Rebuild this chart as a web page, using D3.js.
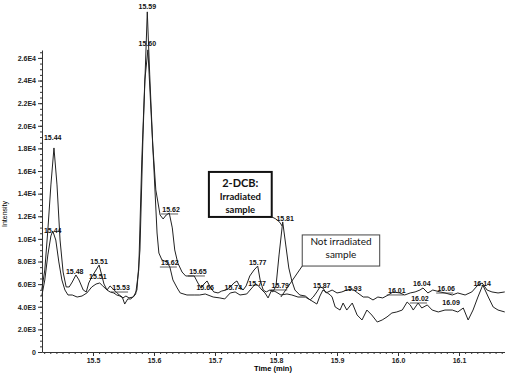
<!DOCTYPE html>
<html lang="en">
<head>
	<meta charset="utf-8">
	<title>2-DCB chromatogram</title>
	<script src='https://d3js.org/d3.v7.min.js'></script>
	<style>
		body { margin: 0; background: #fff; }
		.axis path, .axis line { stroke: #333; }
		.axis text { font-family: "Liberation Sans", Arial, sans-serif; font-size: 7px; font-weight: bold; fill: #222; }
		.peak { font-family: "Liberation Sans", Arial, sans-serif; font-size: 7px; font-weight: bold; fill: #111; text-anchor: middle; }
		.note { font-family: Lato, "Open Sans", sans-serif; fill: #111; text-anchor: middle; }
	</style>
</head>
<body>
	<div id="chart"></div>
	<script>
		// irradiated sample trace (time in min, intensity)
		var timeA = [15.416,15.421,15.426,15.431,15.436,15.441,15.446,15.451,15.456,15.461,15.466,15.472,15.477,15.484,15.489,15.493,15.498,15.503,15.510,15.513,
			15.518,15.523,15.528,15.533,15.538,15.543,15.548,15.552,15.557,15.562,15.567,15.572,15.577,15.582,15.589,15.593,15.598,15.603,15.610,15.615,
			15.620,15.625,15.630,15.634,15.639,15.646,15.652,15.659,15.666,15.672,15.677,15.682,15.687,15.692,15.698,15.705,15.711,15.718,15.725,15.731,
			15.736,15.741,15.746,15.751,15.757,15.764,15.770,15.774,15.779,15.784,15.790,15.795,15.800,15.805,15.811,15.816,15.821,15.826,15.831,15.839,
			15.848,15.856,15.861,15.867,15.872,15.877,15.882,15.892,15.900,15.908,15.916,15.925,15.934,15.943,15.951,15.959,15.967,15.975,15.984,15.992,
			16.003,16.011,16.020,16.028,16.036,16.041,16.049,16.057,16.069,16.077,16.089,16.098,16.110,16.121,16.131,16.138,16.146,16.154,16.164,16.175];
		var intensityA = [5500,7250,10790,14770,18040,14770,9900,7070,5750,5750,6190,6810,6370,5480,5310,6100,6630,7070,7690,7070,
			6010,5480,5840,5570,5310,5040,4860,4240,4690,4690,4950,5480,9020,19190,30070,24500,18300,14330,12110,11760,
			12110,12290,10970,9020,7870,7070,6720,6720,6720,6100,5660,6010,6280,5750,5310,5220,5390,5480,5750,6100,
			6280,5750,5480,5840,6720,7250,7600,6370,5480,5310,5480,5310,5840,8580,11500,9460,7430,6280,5480,5040,
			4950,4600,4860,5310,5750,5660,5220,5480,5220,5310,5480,5570,5220,4860,4860,4600,4860,4780,5040,5310,
			5220,5040,5220,5310,5480,5660,5220,5480,5310,5220,5040,5220,5040,5310,5920,6100,5480,5310,5220,5310];

		// not irradiated sample trace
		var timeB = [15.416,15.421,15.426,15.431,15.434,15.439,15.444,15.449,15.454,15.459,15.466,15.474,15.482,15.490,15.498,15.505,15.511,15.516,15.523,15.528,
			15.534,15.539,15.544,15.549,15.554,15.559,15.566,15.570,15.575,15.580,15.585,15.590,15.595,15.600,15.605,15.608,15.613,15.621,15.626,15.631,
			15.638,15.643,15.654,15.667,15.675,15.684,15.697,15.708,15.716,15.725,15.733,15.741,15.752,15.759,15.766,15.770,15.777,15.782,15.787,15.793,
			15.800,15.808,15.818,15.826,15.836,15.848,15.859,15.867,15.872,15.877,15.882,15.889,15.892,15.897,15.905,15.910,15.916,15.925,15.933,15.941,
			15.949,15.957,15.966,15.974,15.982,15.990,15.998,16.007,16.015,16.020,16.025,16.033,16.039,16.048,16.056,16.066,16.077,16.089,16.098,16.107,
			16.115,16.123,16.131,16.139,16.148,16.156,16.164,16.175];
		var intensityB = [4950,6370,8580,10260,10700,9900,7960,6370,5480,5040,5040,4860,4950,5220,5750,6010,6100,5840,5480,5310,
			5220,5040,4950,4780,4950,4780,4860,5130,7250,16980,24050,26710,21400,16090,10520,8750,8140,7960,7520,6370,
			5660,5220,5040,5040,5040,5130,4860,4780,4690,5220,5310,5040,5130,5570,6010,5920,5480,5220,4780,5480,
			5310,5040,5130,5040,4860,4860,4510,4240,4950,5480,5310,5040,4860,3980,3710,4330,3710,4330,3270,2830,
			3710,3270,2650,2830,3100,3450,3540,3710,4420,4160,3710,4330,3890,4160,3710,3540,3710,3710,3540,3890,
			2830,3710,4860,5920,4860,3980,3710,3540];

		// peak labels: text, time and intensity of the label anchor, 1 = label sits on a short leader
		var peakText = ["15.59","15.60","15.44","15.44","15.48","15.51","15.51","15.53","15.62","15.62","15.65","15.66","15.74",
			"15.77","15.77","15.79","15.81","15.87","15.93","16.01","16.04","16.02","16.06","16.09","16.14"];
		var peakTime = [15.589,15.589,15.434,15.434,15.470,15.510,15.508,15.546,15.628,15.626,15.672,15.684,15.730,
			15.770,15.769,15.807,15.815,15.875,15.926,15.998,16.039,16.036,16.079,16.087,16.138];
		var peakValue = [30330,27060,18750,10520,6900,7780,6460,5480,12380,7690,6900,5480,5480,
			7690,5840,5660,11580,5660,5390,5220,5840,4510,5390,4160,5840];
		var peakLeader = [0,0,0,0,0,0,0,1,1,1,1,0,0,0,0,1,0,0,0,1,0,1,1,0,0];

		var xTicks = [15.5,15.6,15.7,15.8,15.9,16.0,16.1];
		var xTickLabels = ["15.5","15.6","15.7","15.8","15.9","16.0","16.1"];
		var yTicks = [0,2000,4000,6000,8000,10000,12000,14000,16000,18000,20000,22000,24000,26000];
		var yTickLabels = ["0","2.0E3","4.0E3","6.0E3","8.0E3","1.0E4","1.2E4","1.4E4","1.6E4","1.8E4","2.0E4","2.2E4","2.4E4","2.6E4"];

		const width = 505;
		const height = 373;
		var svg = d3.select("#chart")
					.append("svg")
					.attr("width", width)
					.attr("height", height);

		var x = d3.scaleLinear()
				.domain([15.4164, 16.1754])
				.range([42, 505]);
		var y = d3.scaleLinear()
				.domain([0, 26700])
				.range([352, 50]);

		// minor ticks first, then the labelled ones on top
		svg.append("g")
			.attr("class", "axis")
			.attr("transform", "translate(0,352)")
			.call(d3.axisBottom(x).tickValues(d3.range(15.42, 16.18, 0.01)).tickSize(2).tickFormat(""))
			.select(".domain").remove();
		svg.append("g")
			.attr("class", "axis")
			.attr("transform", "translate(0,352)")
			.call(d3.axisBottom(x).tickValues(xTicks).tickSize(4).tickSizeOuter(0).tickPadding(2)
				.tickFormat(function(d, i) { return xTickLabels[i]; }));

		svg.append("g")
			.attr("class", "axis")
			.attr("transform", "translate(42,0)")
			.call(d3.axisLeft(y).tickValues(d3.range(500, 26700, 500)).tickSize(2).tickFormat(""))
			.select(".domain").remove();
		svg.append("g")
			.attr("class", "axis")
			.attr("transform", "translate(42,0)")
			.call(d3.axisLeft(y).tickValues(yTicks).tickSize(4).tickSizeOuter(0).tickPadding(2)
				.tickFormat(function(d, i) { return yTickLabels[i]; }));

		svg.append("text")
			.attr("transform", "translate(7,214) rotate(-90)")
			.attr("text-anchor", "middle")
			.style("font-family", "Liberation Sans, Arial, sans-serif")
			.style("font-size", "7px")
			.text("Intensity");
		svg.append("text")
			.attr("x", 273)
			.attr("y", 371)
			.attr("text-anchor", "middle")
			.style("font-family", "Liberation Sans, Arial, sans-serif")
			.style("font-size", "7.5px")
			.style("font-weight", "bold")
			.text("Time (min)");

		var line = d3.line()
					.x(function(d) { return x(d[0]); })
					.y(function(d) { return y(d[1]); });

		svg.append("path")
			.datum(d3.zip(timeB, intensityB))
			.attr("fill", "none")
			.attr("stroke", "#222")
			.attr("stroke-width", 1)
			.attr("d", line);
		svg.append("path")
			.datum(d3.zip(timeA, intensityA))
			.attr("fill", "none")
			.attr("stroke", "#222")
			.attr("stroke-width", 1)
			.attr("d", line);

		svg.selectAll("text.peak")
			.data(peakText)
			.enter()
			.append("text")
			.attr("class", "peak")
			.attr("x", function(d, i) { return x(peakTime[i]); })
			.attr("y", function(d, i) { return y(peakValue[i]); })
			.text(function(d) { return d; });

		// short leader lines under some of the labels
		svg.selectAll("line.leader")
			.data(peakTime.filter(function(d, i) { return peakLeader[i]; }))
			.enter()
			.append("line")
			.attr("class", "leader")
			.attr("x1", function(d) { return x(d) - 10; })
			.attr("x2", function(d) { return x(d) + 7; })
			.attr("y1", function(d, i) { return y(peakValue.filter(function(v, j) { return peakLeader[j]; })[i]) + 2; })
			.attr("y2", function(d, i) { return y(peakValue.filter(function(v, j) { return peakLeader[j]; })[i]) + 2; })
			.attr("stroke", "#333")
			.attr("stroke-width", 0.8);

		// annotation boxes, placed in data units
		var box1 = svg.append("g");
		box1.append("rect")
			.attr("x", x(15.690))
			.attr("y", y(15920))
			.attr("width", x(15.793) - x(15.690))
			.attr("height", y(11940) - y(15920))
			.attr("fill", "#fff")
			.attr("stroke", "#111")
			.attr("stroke-width", 2);
		box1.append("path")
			.attr("d", "M" + x(15.793) + "," + y(11940) + " Q" + x(15.805) + "," + y(11700) + " " + x(15.810) + "," + y(11140))
			.attr("fill", "none")
			.attr("stroke", "#222");
		box1.append("text").attr("class", "note")
			.attr("x", x(15.7415)).attr("y", y(14600))
			.style("font-size", "11px").style("font-weight", "bold")
			.text("2-DCB:");
		box1.append("text").attr("class", "note")
			.attr("x", x(15.7415)).attr("y", y(13400))
			.style("font-size", "9.5px").style("font-weight", "bold")
			.text("Irradiated");
		box1.append("text").attr("class", "note")
			.attr("x", x(15.7415)).attr("y", y(12250))
			.style("font-size", "9.5px").style("font-weight", "bold")
			.text("sample");

		var box2 = svg.append("g");
		box2.append("rect")
			.attr("x", x(15.843))
			.attr("y", y(10350))
			.attr("width", x(15.970) - x(15.843))
			.attr("height", y(7600) - y(10350))
			.attr("fill", "#fff")
			.attr("stroke", "#444")
			.attr("stroke-width", 1);
		box2.append("line")
			.attr("x1", x(15.843)).attr("y1", y(7600))
			.attr("x2", x(15.808)).attr("y2", y(4860))
			.attr("stroke", "#222");
		box2.append("text").attr("class", "note")
			.attr("x", x(15.9065)).attr("y", y(9500))
			.style("font-size", "10px")
			.text("Not irradiated");
		box2.append("text").attr("class", "note")
			.attr("x", x(15.9065)).attr("y", y(8300))
			.style("font-size", "10px")
			.text("sample");
	</script>
</body>
</html>
